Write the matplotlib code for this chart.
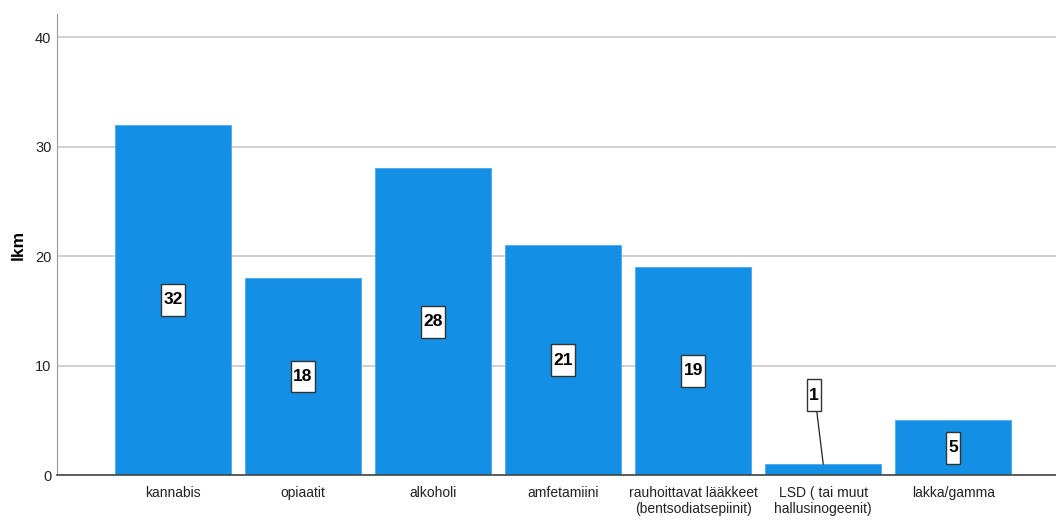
import matplotlib.pyplot as plt
from matplotlib.patches import Rectangle
import numpy as np

plt.rcParams['font.family'] = ['Liberation Sans Narrow', 'Liberation Sans', 'DejaVu Sans']

categories = ['kannabis', 'opiaatit', 'alkoholi', 'amfetamiini',
              'rauhoittavat lääkkeet\n(bentsodiatsepiinit)',
              'LSD ( tai muut\nhallusinogeenit)', 'lakka/gamma']
counts = [32, 18, 28, 21, 19, 1, 5]

bar_color = '#1390E6'

fig = plt.figure(figsize=(10.56, 5.2), dpi=100)
ax = fig.add_axes([0.054, 0.0865, 0.946, 0.8865])

x = np.arange(len(categories))
ax.bar(x, counts, width=0.892, color=bar_color, edgecolor='#4aa8ee', linewidth=0.6, zorder=2)

ax.set_xlim(-0.892, 6.79)
ax.set_ylim(0, 42.1)
ax.set_yticks([0, 10, 20, 30, 40])
ax.yaxis.grid(True, color='#c8c8c8', linewidth=1.2, zorder=0)
ax.set_axisbelow(True)

ax.set_xticks(x)
ax.set_xticklabels(categories, fontsize=10, color='#222222', linespacing=1.2)
ax.tick_params(axis='x', length=0, pad=8)
ax.tick_params(axis='y', length=0, pad=4, labelsize=10.5, labelcolor='#222222')

ax.set_ylabel('lkm', fontsize=12.5, fontweight='bold', labelpad=7)

for s in ['top', 'right']:
    ax.spines[s].set_visible(False)
ax.spines['left'].set_color('#999999')
ax.spines['bottom'].set_color('#444444')
ax.spines['bottom'].set_linewidth(1.2)

# label boxes (tall, narrow like the original)
bh = 2.9


def label(xc, yc, txt):
    w = 0.18 if len(txt) > 1 else 0.11
    ax.add_patch(Rectangle((xc - w / 2, yc - bh / 2), w, bh, facecolor='white',
                           edgecolor='#333333', linewidth=1.0, zorder=4))
    ax.text(xc, yc, txt, ha='center', va='center', fontsize=12.5,
            fontweight='bold', zorder=5)


for xi, v in zip(x, counts):
    if v < 3:
        lx, ly = xi - 0.07, 7.3
        ax.plot([lx + 0.02, xi], [ly - bh / 2, v], color='#222222', linewidth=0.9, zorder=3)
        label(lx, ly, str(v))
    else:
        label(xi, v / 2, str(v))

fig.savefig('out.png', dpi=100)
